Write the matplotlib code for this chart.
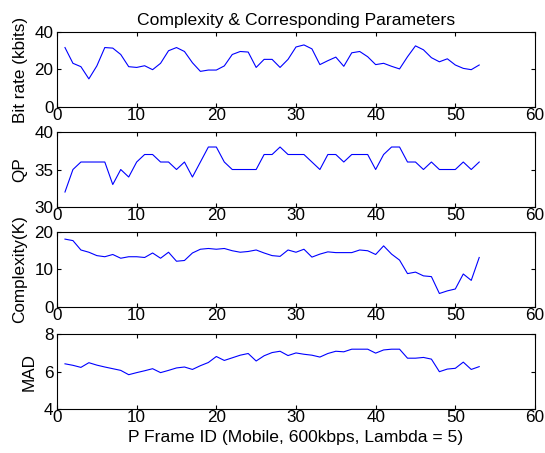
import matplotlib
matplotlib.use("Agg")
import matplotlib.pyplot as plt
import numpy as np

plt.rcParams['font.family'] = ['Liberation Sans', 'DejaVu Sans']

frames = list(range(1, 54))
bitrate = [31.7, 23.3, 21.5, 15.0, 21.9, 31.7, 31.4, 28.0, 21.5, 21.1,
           22.0, 19.9, 23.3, 30.0, 31.7, 29.6, 23.6, 19.0, 19.7, 19.7,
           21.9, 28.0, 29.6, 29.3, 21.1, 25.4, 25.4, 21.1, 25.4, 32.0,
           33.1, 31.0, 22.6, 24.7, 26.6, 21.7, 28.9, 29.6, 26.8, 22.6,
           23.3, 21.7, 20.3, 26.8, 32.6, 30.5, 26.3, 24.1, 25.7, 22.4,
           20.6, 19.9, 22.4]
qp = [32, 35, 36, 36, 36, 36, 33, 35, 34, 36,
      37, 37, 36, 36, 35, 36, 34, 36, 38, 38,
      36, 35, 35, 35, 35, 37, 37, 38, 37, 37,
      37, 36, 35, 37, 37, 36, 37, 37, 37, 35,
      37, 38, 38, 36, 36, 35, 36, 35, 35, 35,
      36, 35, 36]
complexity = [18.1, 17.7, 15.2, 14.6, 13.7, 13.4, 14.0, 13.0, 13.4, 13.4,
              13.2, 14.4, 13.0, 14.6, 12.2, 12.4, 14.4, 15.4, 15.6, 15.4,
              15.6, 15.0, 14.6, 14.8, 15.2, 14.4, 13.7, 13.5, 15.2, 14.6,
              15.4, 13.3, 14.1, 14.7, 14.5, 14.5, 14.5, 15.2, 15.0, 14.0,
              16.3, 14.1, 12.5, 8.9, 9.3, 8.3, 8.1, 3.6, 4.3, 4.8,
              8.8, 7.1, 13.2]
mad = [6.41, 6.33, 6.22, 6.47, 6.34, 6.24, 6.15, 6.06, 5.83, 5.94,
       6.04, 6.15, 5.94, 6.06, 6.19, 6.24, 6.11, 6.31, 6.48, 6.80,
       6.59, 6.73, 6.87, 6.96, 6.56, 6.84, 7.01, 7.08, 6.85, 6.99,
       6.92, 6.87, 6.77, 6.96, 7.08, 7.05, 7.19, 7.19, 7.19, 6.98,
       7.15, 7.19, 7.19, 6.71, 6.71, 6.75, 6.66, 5.99, 6.13, 6.17,
       6.50, 6.11, 6.26]

series = [bitrate, qp, complexity, mad]
ylabels = ["Bit rate (kbits)", "QP", "Complexity(K)", "MAD"]
ylims = [(0, 40), (30, 40), (0, 20), (4, 8)]
yticks = [[0, 20, 40], [30, 35, 40], [0, 10, 20], [4, 6, 8]]
xticks = [0, 10, 20, 30, 40, 50, 60]
title = "Complexity & Corresponding Parameters"
xlabel = "P Frame ID (Mobile, 600kbps, Lambda = 5)"

fig = plt.figure(figsize=(5.45, 4.53), dpi=100)
bottoms = [0.7638, 0.543, 0.3223, 0.0971]
fs = 12.3
for i in range(4):
    ax = fig.add_axes([0.1046, bottoms[i], 0.877, 0.1656])
    ax.plot(frames, series[i], color=(0, 0, 1), lw=0.8)
    ax.set_xlim(0, 60)
    ax.set_ylim(*ylims[i])
    ax.set_xticks(xticks)
    ax.set_yticks(yticks[i])
    ax.tick_params(direction='in', top=True, right=True, labelsize=fs,
                   length=3, width=0.8, pad=2.5)
    ax.tick_params(axis='x', pad=1)
    ax.set_ylabel(ylabels[i], fontsize=fs, labelpad=5)
    for s in ax.spines.values():
        s.set_linewidth(0.8)
    if i == 0:
        ax.set_title(title, fontsize=fs + 0.3, pad=5)
    if i == 3:
        ax.set_xlabel(xlabel, fontsize=fs + 0.3, labelpad=3)

fig.savefig("out.png", dpi=100)
